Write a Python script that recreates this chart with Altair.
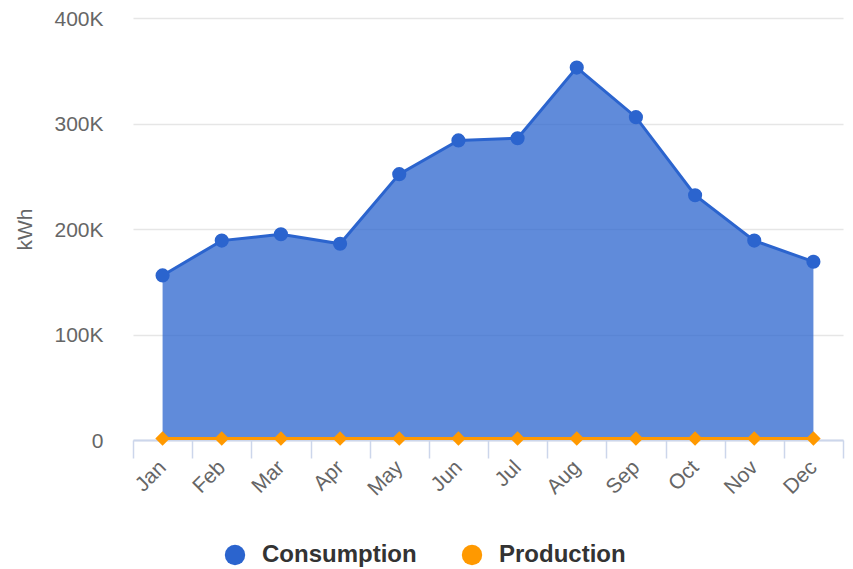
import altair as alt
import pandas as pd

months = ["Jan", "Feb", "Mar", "Apr", "May", "Jun", "Jul", "Aug", "Sep", "Oct", "Nov", "Dec"]
consumption = [156000, 189000, 195000, 186000, 252000, 284000, 286000, 353000, 306000, 232000, 189000, 169000]
production = [1500, 1500, 1500, 1500, 1500, 1500, 1500, 1500, 1500, 1500, 1500, 1500]
series = ["Consumption", "Production"]
colors = ["#2b64ce", "#ff9900"]

rows = []
for m, c, p in zip(months, consumption, production):
    rows.append({"month": m, "series": "Consumption", "kwh": c})
    rows.append({"month": m, "series": "Production", "kwh": p})
df = pd.DataFrame(rows)

FONT = "Liberation Sans"

x = alt.X(
    "month:O",
    sort=months,
    bandPosition=0.5,
    scale=alt.Scale(type="band", paddingInner=0, paddingOuter=0),
    axis=alt.Axis(
        title=None,
        tickBand="extent",
        labelAngle=-45,
        labelAlign="right",
        labelBaseline="middle",
        labelPadding=6,
        labelFontSize=21,
        labelColor="#666666",
        labelFont=FONT,
        tickSize=18,
        tickColor="#ccd6eb",
        tickWidth=1.5,
        domainColor="#ccd6eb",
        domainWidth=2,
        grid=False,
    ),
)
y = alt.Y(
    "kwh:Q",
    scale=alt.Scale(domain=[0, 400000]),
    axis=alt.Axis(
        title="kWh",
        titleFont=FONT,
        titleFontSize=21,
        titleFontWeight="normal",
        titleColor="#666666",
        titleAngle=-90,
        titleX=-108,
        titleY=211,
        titleAlign="center",
        titleBaseline="middle",
        values=[0, 100000, 200000, 300000, 400000],
        labelExpr="datum.value == 0 ? '0' : (datum.value / 1000) + 'K'",
        labelFontSize=21,
        labelFont=FONT,
        labelColor="#666666",
        labelPadding=30,
        labelOffset=1,
        ticks=False,
        domain=False,
        grid=True,
        gridColor="#e6e6e6",
        gridWidth=1.5,
    ),
)
color = alt.Color(
    "series:N",
    scale=alt.Scale(domain=series, range=colors),
    legend=alt.Legend(
        title=None,
        orient="none",
        direction="horizontal",
        legendX=90,
        legendY=525,
        symbolType="circle",
        symbolSize=415,
        symbolStrokeWidth=0,
        symbolOpacity=1,
        labelFont=FONT,
        labelFontSize=24,
        labelFontWeight="bold",
        labelColor="#333333",
        labelOffset=15,
        columnPadding=43,
    ),
)

base = alt.Chart(df)
cons = base.transform_filter(alt.datum.series == "Consumption")
prod = base.transform_filter(alt.datum.series == "Production")

area = cons.mark_area(opacity=0.75, color="#2b64ce").encode(x=x, y=y)
cline = cons.mark_line(strokeWidth=3).encode(x=x, y=y, color=color)
cpts = cons.mark_point(shape="circle", filled=True, size=200, opacity=1).encode(x=x, y=y, color=color)
pline = prod.mark_line(strokeWidth=3).encode(x=x, y=y, color=color)
ppts = prod.mark_point(shape="diamond", filled=True, size=210, opacity=1).encode(x=x, y=y, color=color)

chart = (
    alt.layer(area, cline, cpts, pline, ppts)
    .properties(
        width=710,
        height=422,
        autosize=alt.AutoSizeParams(type="none"),
        padding={"left": 125, "top": 10, "right": 2, "bottom": 128},
    )
    .configure(font=FONT)
    .configure_view(strokeWidth=0, stroke="transparent")
)

chart.save("out.html", embed_options={"renderer": "svg", "actions": False})
